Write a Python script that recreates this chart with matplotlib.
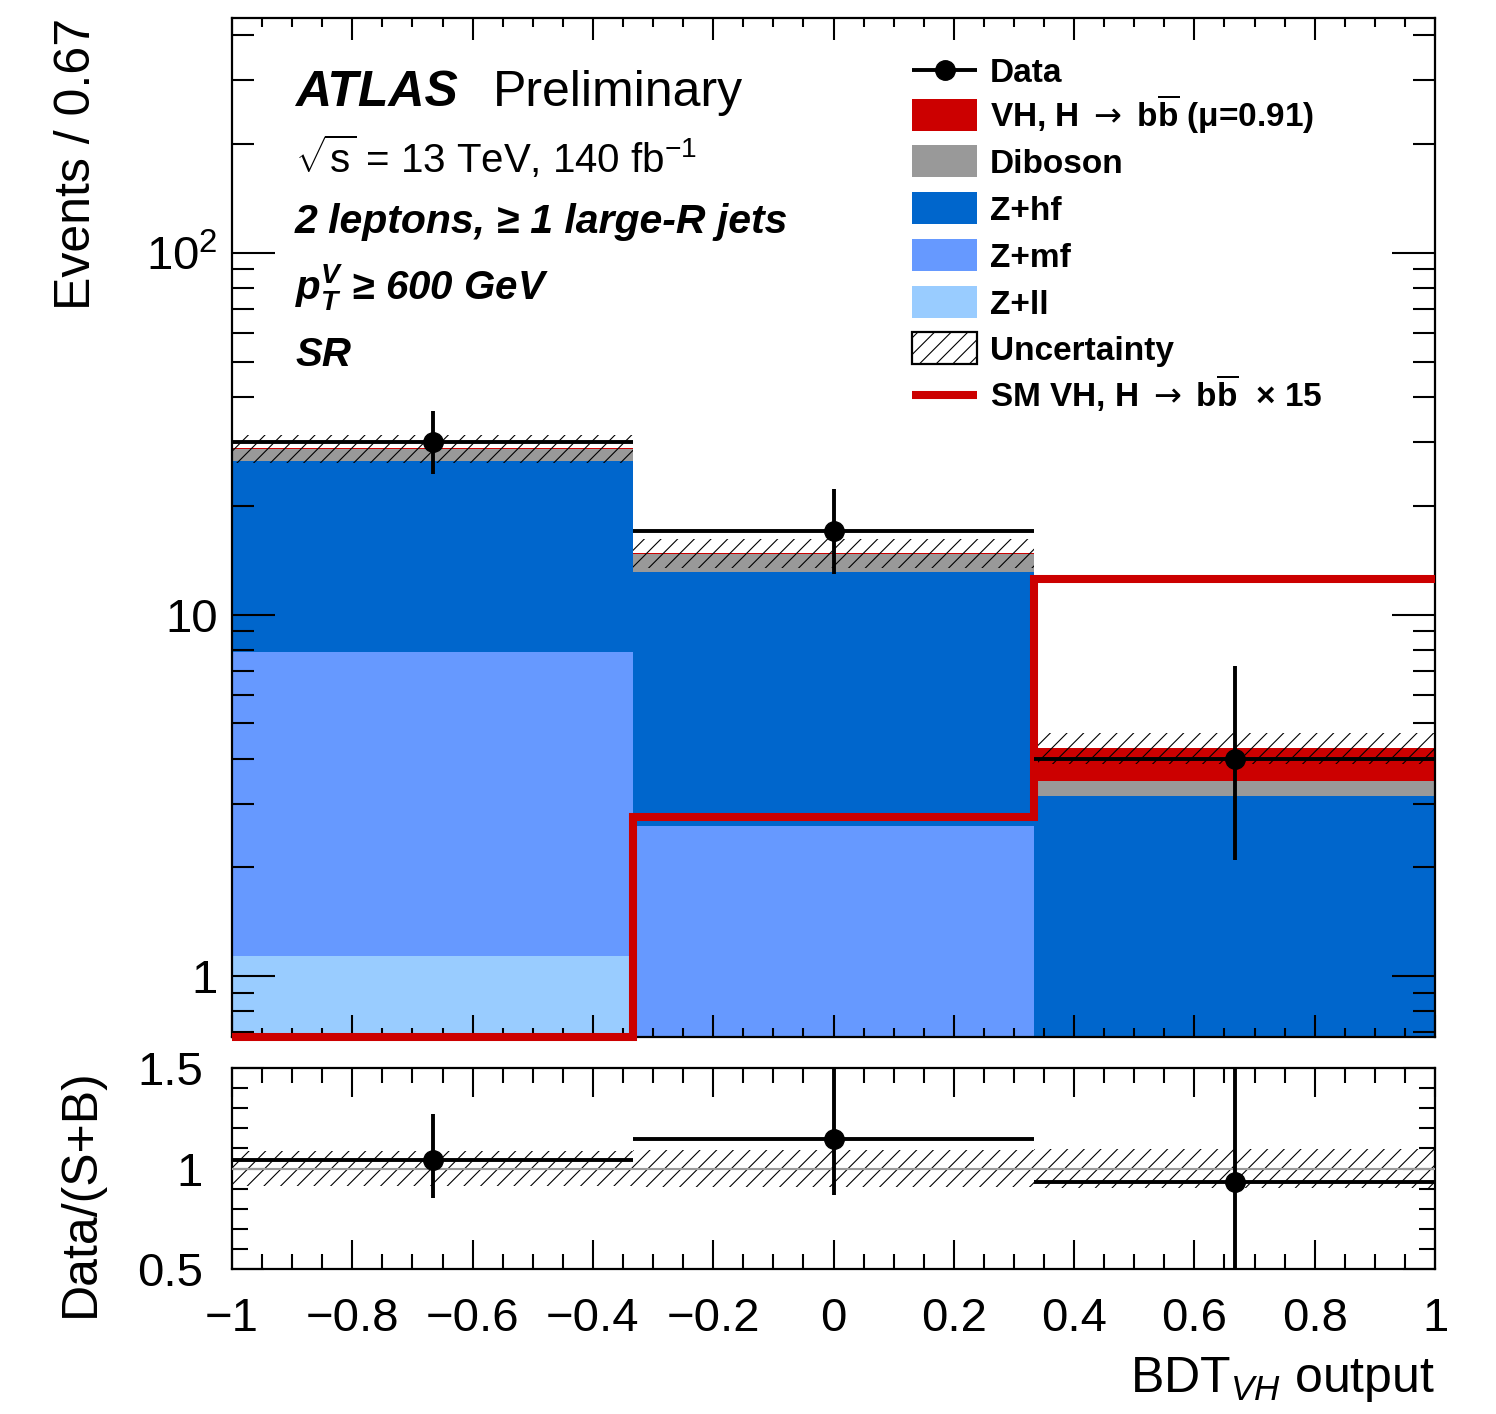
import numpy as np
import matplotlib
matplotlib.use("Agg")
import matplotlib.pyplot as plt
from matplotlib.patches import Rectangle
from matplotlib.lines import Line2D
from matplotlib.ticker import (FixedLocator, FixedFormatter, MultipleLocator,
                               LogLocator, NullFormatter, FuncFormatter)

plt.rcParams['font.family'] = ['Liberation Sans', 'DejaVu Sans']
plt.rcParams['mathtext.fontset'] = 'custom'
plt.rcParams['mathtext.rm'] = 'Liberation Sans'
plt.rcParams['mathtext.it'] = 'Liberation Sans:italic'
plt.rcParams['mathtext.bf'] = 'Liberation Sans:bold'
plt.rcParams['mathtext.sf'] = 'Liberation Sans:bold:italic'
plt.rcParams['mathtext.cal'] = 'DejaVu Sans'
plt.rcParams['hatch.linewidth'] = 0.8

# ---- data -------------------------------------------------------------
bin_edges = [-1.0, -1.0 / 3.0, 1.0 / 3.0, 1.0]
# stacked contributions (bottom to top)
z_ll = [1.14, 0.30, 0.10]
z_mf = [6.75, 2.30, 0.40]
z_hf = [18.6, 10.5, 2.65]
diboson = [2.20, 1.60, 0.31]
vh_signal = [0.10, 0.12, 0.82]
bkg_unc = [2.50, 1.35, 0.42]
data = [30, 17, 4]
data_err_up = [6.6, 5.2, 3.2]
data_err_dn = [5.5, 4.1, 1.9]
sm_vh_x15 = [0.30, 2.76, 12.55]

ARROW = r"$\mathcal{\rightarrow}$"
BBAR = r"b$\overline{\mathbf{b}}$"
stack_names = ["Z+ll", "Z+mf", "Z+hf", "Diboson",
               "VH, H " + ARROW + " " + BBAR + " (μ=0.91)"]
stack_colors = ["#99ccff", "#6699ff", "#0066cc", "#999999", "#cc0000"]
x_tick_values = [-1.0, -0.8, -0.6, -0.4, -0.2, 0.0, 0.2, 0.4, 0.6, 0.8, 1.0]
y_ticks_main = [1, 10, 100]
y_ticklabels_main = ["1", "10", "$10^{2}$"]
y_ticks_ratio = [0.5, 1.0, 1.5]
y_ticklabels_ratio = ["0.5", "1", "1.5"]

YMIN, YMAX = 0.68, 445.0

edges = np.array(bin_edges)
centers = 0.5 * (edges[:-1] + edges[1:])
half = 0.5 * np.diff(edges)

# ---- figure -----------------------------------------------------------
W, H = 1496, 1414
fig = plt.figure(figsize=(W / 100, H / 100), dpi=100)
ax = fig.add_axes([232 / W, 1 - 1037 / H, 1203 / W, 1019 / H])
rax = fig.add_axes([232 / W, 1 - 1269 / H, 1203 / W, 201 / H])

ax.set_yscale('log')
ax.set_xlim(-1, 1)
ax.set_ylim(YMIN, YMAX)

# stacked histogram
bottom = np.full(len(centers), 1e-3)
for vals, col in zip([z_ll, z_mf, z_hf, diboson, vh_signal], stack_colors):
    top = bottom + np.array(vals)
    ax.stairs(top, edges, baseline=bottom, fill=True, facecolor=col,
              edgecolor='none', lw=0, zorder=1)
    bottom = top
total = bottom
unc = np.array(bkg_unc)

# uncertainty band
ax.stairs(total + unc, edges, baseline=total - unc, fill=True,
          facecolor='none', edgecolor='black', hatch='//', lw=0, zorder=2)

# SM signal x15 outline (values below the axis range sit on the lower edge)
ax.stairs(np.maximum(sm_vh_x15, YMIN), edges, baseline=None, color='#cc0000',
          lw=5.8, clip_on=False, zorder=4)

# data
ax.errorbar(centers, data, xerr=half, yerr=[data_err_dn, data_err_up],
            fmt='o', color='black', ms=14, elinewidth=2.8, capsize=0, zorder=6)

# ---- ratio panel ------------------------------------------------------
rax.set_xlim(-1, 1)
rax.set_ylim(0.5, 1.5)
rel = unc / total
rax.stairs(1 + rel, edges, baseline=1 - rel, fill=True, facecolor='none',
           edgecolor='black', hatch='//', lw=0, zorder=2)
rax.axhline(1.0, color='#999999', lw=1.5, zorder=3)
ratio = np.array(data) / total
rax.errorbar(centers, ratio, xerr=half,
             yerr=[np.array(data_err_dn) / total, np.array(data_err_up) / total],
             fmt='o', color='black', ms=14, elinewidth=2.8, capsize=0, zorder=6)

# ---- axes styling ------------------------------------------------------
def fmt_x(v, pos):
    v = round(v, 6)
    if v == 0:
        return "0"
    return f"{v:g}".replace("-", "\u2212")

for a in (ax, rax):
    for s in a.spines.values():
        s.set_linewidth(1.6)
    a.xaxis.set_major_locator(FixedLocator(x_tick_values))
    a.xaxis.set_minor_locator(MultipleLocator(0.05))
    a.tick_params(which='both', direction='in', top=True, right=True, width=1.5)

ax.yaxis.set_major_locator(FixedLocator(y_ticks_main))
ax.yaxis.set_major_formatter(FixedFormatter(y_ticklabels_main))
ax.yaxis.set_minor_locator(LogLocator(base=10, subs=np.arange(2, 10)))
ax.yaxis.set_minor_formatter(NullFormatter())
ax.tick_params(axis='x', which='major', length=15.8, labelbottom=False)
ax.tick_params(axis='x', which='minor', length=6.5)
ax.tick_params(axis='y', which='major', length=31, labelsize=34, pad=10)
ax.tick_params(axis='y', which='minor', length=15.8)

rax.xaxis.set_major_formatter(FuncFormatter(fmt_x))
rax.yaxis.set_major_locator(FixedLocator(y_ticks_ratio))
rax.yaxis.set_major_formatter(FixedFormatter(y_ticklabels_ratio))
rax.yaxis.set_minor_locator(MultipleLocator(0.1))
rax.tick_params(axis='x', which='major', length=21, labelsize=34, pad=20)
rax.tick_params(axis='x', which='minor', length=10.8)
rax.tick_params(axis='y', which='major', length=23, labelsize=34, pad=21)
rax.tick_params(axis='y', which='minor', length=11.5)

ax.set_ylabel("Events / 0.67", fontsize=36, loc='top')
ax.yaxis.set_label_coords((100 - 232) / 1203, 1.0)
rax.set_ylabel("Data/(S+B)", fontsize=36, loc='top')
rax.yaxis.set_label_coords((104 - 232) / 1203, 1.0)
rax.set_xlabel("BDT$_{VH}$ output", fontsize=36, loc='right')
rax.xaxis.set_label_coords(1.0, (1269 - 1355) / 201)

# ---- annotations -------------------------------------------------------
def axc(px, py):
    return ((px - 232) / 1203, (1037 - py) / 1019)

tr = ax.transAxes
ax.text(*axc(295, 106), "ATLAS", fontsize=36, fontweight='bold', style='italic',
        transform=tr, va='baseline')
ax.text(*axc(493, 106), "Preliminary", fontsize=36, transform=tr, va='baseline')
ax.text(*axc(295, 173), r"$\sqrt{\mathrm{s}}$ = 13 TeV, 140 fb$^{\mathrm{-1}}$",
        fontsize=29, transform=tr, va='baseline')
ax.text(*axc(295, 233), "2 leptons, ≥ 1 large-R jets", fontsize=29.5,
        fontweight='bold', style='italic', transform=tr, va='baseline')
ax.text(*axc(295, 299), r"$\mathsf{p}_{\mathsf{T}}^{\mathsf{V}}$ ≥ 600 GeV", fontsize=29,
        fontweight='bold', style='italic', transform=tr, va='baseline')
ax.text(*axc(295, 366), "SR", fontsize=29, fontweight='bold', style='italic',
        transform=tr, va='baseline')

# ---- legend ------------------------------------------------------------
leg_rows = [70, 115, 161, 208, 255, 302, 348, 395]
key_l, key_r, text_x = 912, 977, 990
box_h = 32
leg_fs = 24

def key_box(py, **kw):
    x0, y0 = axc(key_l, py + box_h / 2)
    x1, y1 = axc(key_r, py - box_h / 2)
    ax.add_patch(Rectangle((x0, y0), x1 - x0, y1 - y0, transform=tr,
                           clip_on=False, zorder=7, **kw))

def key_text(py, s):
    ax.text(*axc(text_x, py + 12), s, fontsize=leg_fs, fontweight='bold',
            transform=tr, va='baseline', zorder=7)

# Data
xa, ya = axc(key_l, leg_rows[0])
xb, _ = axc(key_r, leg_rows[0])
ax.add_line(Line2D([xa, xb], [ya, ya], transform=tr, color='black', lw=2.8,
                   solid_capstyle='butt', clip_on=False, zorder=7))
ax.add_line(Line2D([(xa + xb) / 2], [ya], transform=tr, color='black', marker='o',
                   ms=14, clip_on=False, zorder=7))
key_text(leg_rows[0], "Data")

legend_order = [4, 3, 2, 1, 0]
for row, idx in zip(leg_rows[1:6], legend_order):
    key_box(row, facecolor=stack_colors[idx], edgecolor='none', lw=0)
    key_text(row, stack_names[idx])

key_box(leg_rows[6], facecolor='white', edgecolor='black', lw=1.6, hatch='//')
key_text(leg_rows[6], "Uncertainty")

xa, ya = axc(key_l, leg_rows[7])
ax.add_line(Line2D([xa, xb], [ya, ya], transform=tr, color='#cc0000', lw=5.8,
                   solid_capstyle='butt', clip_on=False, zorder=7))
key_text(leg_rows[7], "SM VH, H " + ARROW + " " + BBAR + "  × 15")

fig.savefig("out.png", dpi=100)
